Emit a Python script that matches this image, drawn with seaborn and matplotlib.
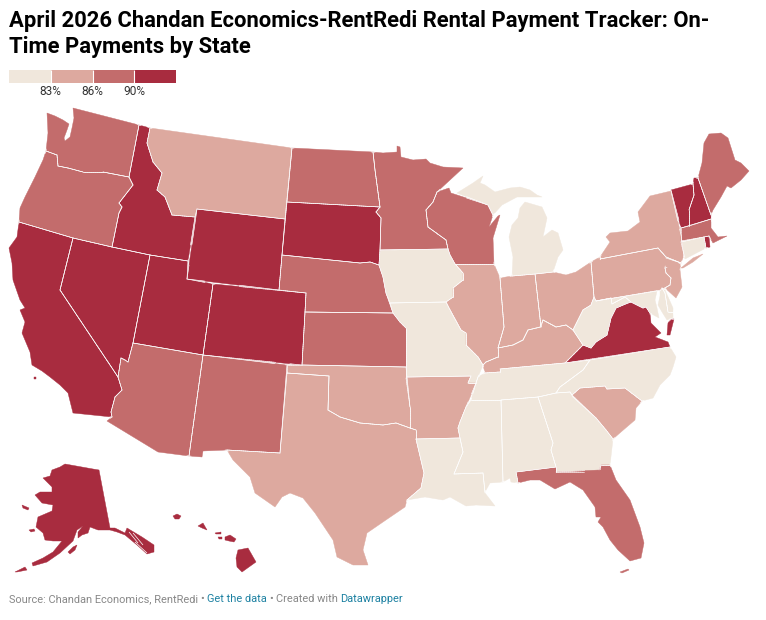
import matplotlib
matplotlib.use('Agg')
import matplotlib.pyplot as plt
from matplotlib.collections import LineCollection
from matplotlib.colors import ListedColormap
import numpy as np
import seaborn as sns

TITLE = 'April 2026 Chandan Economics-RentRedi Rental Payment Tracker: On-\nTime Payments by State'
BIN_COLORS = ['#f0e7dc', '#dda99f', '#c36c6c', '#a82c3f']
BIN_LABELS = ['83%', '86%', '90%']

# payment bin per state: 0 lowest .. 3 highest
BIN_LOW = ['IA', 'MO', 'MI', 'MI2', 'WV', 'MD', 'MD2', 'DE', 'TN', 'NC', 'MS', 'AL', 'GA', 'LA', 'CT']
BIN_MID_LOW = ['MT', 'TX', 'OK', 'AR', 'IL', 'IN', 'OH', 'KY', 'PA', 'NY', 'NY2', 'NJ', 'SC']
BIN_MID_HIGH = ['WA', 'OR', 'ND', 'MN', 'WI', 'NE', 'KS', 'AZ', 'NM', 'FL', 'FL2', 'ME', 'MA']
BIN_HIGH = ['ID', 'WY', 'SD', 'CA', 'CA2', 'NV', 'UT', 'CO', 'VA', 'VA2', 'VT', 'NH', 'RI', 'AK', 'AK2', 'AK3',
            'AK4', 'AK5', 'HI', 'HI2', 'HI3', 'HI4', 'HI5', 'HI6']

# state outlines, in its pixel grid
OUTLINES = {
    'WA': [(73,108),(139,125),(129,177),(103,172),(83,172),(68,168),(58,166),(57,155),(46,151),(48,133),(47,113),(55,116),(63,120),(69,124),(67,130),(64,138),(65,141),(70,137),(72,128),(74,118)],
    'ID': [(139,125),(150,128),(147,143),(153,162),(162,173),(157,190),(165,197),(172,215),(195,217),(188,261),(150,255),(112,247),(119,213),(122,207),(119,203),(133,185),(129,177)],
    'OR': [(46,151),(57,155),(58,166),(68,168),(83,172),(103,172),(129,177),(133,185),(119,203),(122,207),(119,213),(112,247),(73,238),(19,222),(20,208),(25,197),(35,177),(43,160)],
    'MT': [(150,128),(292,148),(285,219),(197,209),(195,217),(172,215),(165,197),(157,190),(162,173),(153,162),(147,143)],
    'WY': [(197,209),(285,219),(279,290),(187,279)],
    'ND': [(292,148),(373,152),(375,170),(380,207),(287,202)],
    'SD': [(287,202),(380,207),(376,212),(381,218),(380,250),(379,265),(370,262),(360,263),(282,255)],
    'NE': [(282,255),(360,263),(370,262),(379,265),(383,277),(386,293),(393,313),(305,312),(306,293),(279,290)],
    'KS': [(305,312),(393,313),(400,322),(406,328),(406,367),(302,365)],
    'CO': [(213,284),(306,293),(305,312),(302,365),(203,355)],
    'UT': [(150,255),(188,261),(187,279),(213,284),(203,355),(133,343)],
    'NV': [(73,238),(112,247),(150,255),(133,343),(128,362),(125,360),(121,358),(118,377),(60,290)],
    'CA': [(19,222),(73,238),(60,290),(118,377),(122,390),(115,397),(111,412),(112,417),(73,413),(68,393),(60,385),(50,377),(42,371),(32,365),(30,352),(22,333),(25,322),(20,310),(25,308),(20,300),(13,280),(12,263),(9,248),(17,237)],
    'CA2': [(34,377),(36,377),(36,379),(34,379)],
    'AZ': [(133,343),(203,355),(189,456),(158,452),(107,421),(112,417),(111,412),(115,397),(122,390),(118,377),(121,358),(125,360),(128,362)],
    'NM': [(203,355),(287,365),(280,453),(227,450),(203,451),(202,457),(189,456)],
    'TX': [(287,373),(329,376),(328,410),(340,417),(360,423),(383,425),(396,423),(410,428),(416,430),(416,439),(424,473),(421,488),(407,500),(405,507),(383,522),(367,533),(363,550),(368,565),(353,565),(337,557),(333,540),(315,513),(303,498),(290,493),(282,497),(275,507),(255,493),(250,477),(233,460),(227,450),(280,453)],
    'OK': [(287,365),(302,365),(406,367),(406,378),(410,407),(410,428),(396,423),(383,425),(360,423),(340,417),(328,410),(329,376),(287,373)],
    'MN': [(373,152),(383,153),(397,152),(397,146),(400,147),(401,157),(413,160),(426,159),(430,163),(443,167),(463,168),(437,192),(433,202),(426,210),(428,227),(446,240),(448,249),(380,250),(381,218),(376,212),(380,207),(375,170)],
    'IA': [(380,250),(448,249),(450,255),(455,264),(463,273),(463,280),(453,288),(453,297),(446,302),(390,303),(386,293),(383,277),(379,265)],
    'MO': [(390,303),(446,302),(449,308),(461,330),(466,333),(466,345),(478,357),(483,365),(478,377),(476,383),(468,383),(471,376),(407,377),(406,367),(406,328),(400,322),(393,313)],
    'AR': [(407,377),(471,376),(468,383),(476,383),(466,407),(460,422),(458,428),(460,438),(416,439),(416,430),(410,428),(410,407)],
    'LA': [(416,439),(460,438),(463,452),(454,474),(483,473),(485,493),(495,506),(476,505),(466,506),(450,497),(443,500),(425,497),(407,500),(421,488),(424,473)],
    'MS': [(471,400),(501,400),(503,482),(490,483),(485,492),(483,473),(454,474),(463,452),(460,438),(458,428),(460,422),(466,407)],
    'AL': [(501,400),(538,397),(553,443),(551,450),(556,467),(516,472),(518,483),(511,482),(510,478),(503,482)],
    'GA': [(538,397),(556,393),(570,392),(573,397),(596,418),(606,430),(613,439),(610,465),(601,465),(600,472),(556,472),(556,467),(551,450),(553,443)],
    'FL': [(516,472),(556,467),(556,472),(599,470),(601,465),(610,465),(616,480),(630,500),(640,527),(644,543),(641,558),(630,561),(618,550),(610,540),(603,527),(598,522),(601,517),(596,517),(595,507),(583,490),(570,482),(555,489),(540,480),(530,480),(518,483)],
    'FL2': [(620,572),(628,569),(629,570),(622,573)],
    'SC': [(572,395),(580,388),(605,386),(607,389),(625,388),(642,401),(636,408),(635,420),(621,432),(613,439),(606,430),(596,418)],
    'NC': [(590,360),(670,347),(676,357),(673,367),(670,375),(660,385),(653,398),(642,401),(625,388),(607,389),(605,386),(580,388),(572,395),(570,392),(556,393),(560,387),(583,370)],
    'TN': [(478,377),(485,373),(500,372),(500,369),(565,363),(590,360),(583,370),(560,387),(556,393),(538,397),(501,400),(471,400),(476,383)],
    'KY': [(483,365),(485,373),(500,372),(500,369),(565,363),(583,345),(573,330),(566,325),(556,327),(543,320),(540,327),(528,330),(523,340),(513,345),(498,348),(498,357),(486,362)],
    'IN': [(500,278),(512,276),(535,274),(541,327),(528,330),(523,340),(513,345),(498,348),(504,327)],
    'IL': [(455,264),(494,264),(500,278),(504,327),(498,348),(498,357),(486,362),(483,365),(478,357),(466,345),(466,333),(461,330),(449,308),(446,302),(453,297),(453,288),(463,280),(463,273)],
    'WI': [(437,192),(449,188),(451,193),(488,205),(493,215),(489,227),(498,216),(500,215),(493,238),(494,264),(455,264),(450,255),(448,249),(446,240),(428,227),(426,210),(433,202)],
    'MI': [(457,193),(473,183),(483,176),(480,183),(485,185),(495,192),(510,188),(520,187),(530,190),(537,195),(542,197),(517,197),(502,205),(493,215),(488,205)],
    'MI2': [(512,276),(535,274),(553,272),(558,257),(563,250),(558,233),(552,230),(543,237),(547,218),(542,207),(525,202),(520,208),(518,218),(512,225),(509,237),(513,257)],
    'OH': [(535,274),(553,272),(566,275),(576,272),(591,262),(594,297),(591,305),(583,310),(578,320),(573,330),(566,325),(556,327),(543,320),(541,327)],
    'PA': [(600,257),(600,259),(658,248),(666,257),(681,263),(665,268),(666,273),(671,278),(670,285),(661,290),(596,301),(594,297),(591,262)],
    'NY': [(600,259),(658,248),(666,257),(681,263),(684,255),(681,235),(671,191),(650,196),(638,212),(640,222),(628,231),(610,233),(606,237),(610,242),(600,257)],
    'NY2': [(681,268),(693,258),(703,254),(693,262),(683,268)],
    'NJ': [(666,258),(681,263),(680,270),(682,287),(676,298),(665,288),(670,285),(671,278),(666,273),(665,268)],
    'CT': [(681,242),(704,237),(706,248),(685,259),(684,255)],
    'RI': [(704,237),(709,236),(710,247),(706,248)],
    'MA': [(681,228),(711,219),(711,228),(718,237),(727,236),(721,239),(713,243),(709,236),(704,237),(681,241)],
    'VT': [(671,190),(693,184),(694,195),(689,210),(689,226),(681,228)],
    'NH': [(694,178),(698,178),(711,215),(711,219),(689,226),(689,210),(694,195),(693,184)],
    'ME': [(698,178),(702,163),(704,143),(709,134),(721,133),(728,138),(735,160),(741,163),(749,171),(741,180),(731,188),(727,186),(721,197),(713,210),(711,215)],
    'WV': [(594,297),(596,301),(611,298),(612,304),(625,297),(631,302),(628,303),(616,308),(611,318),(607,335),(596,342),(591,348),(583,345),(573,330),(578,320),(583,310),(591,305)],
    'MD': [(596,301),(657,291),(655,300),(657,308),(659,318),(650,313),(646,307),(643,308),(631,302),(625,297),(612,304),(611,298)],
    'MD2': [(660,291),(662,288),(665,293),(668,312),(673,312),(673,318),(667,320),(662,312),(658,305),(660,296)],
    'DE': [(662,288),(665,290),(673,308),(673,312),(668,312),(665,293)],
    'VA': [(565,363),(670,347),(668,342),(655,337),(661,333),(651,323),(650,313),(646,307),(643,308),(631,302),(628,303),(616,308),(611,318),(607,335),(596,342),(591,348),(583,345)],
    'VA2': [(671,319),(674,319),(670,335),(667,335),(668,323)],
    'AK': [(65,464),(93,469),(99,470),(110,528),(115,528),(125,533),(127,528),(142,537),(154,545),(154,552),(147,554),(137,545),(125,535),(117,532),(110,530),(98,530),(90,527),(88,533),(82,535),(78,538),(78,532),(83,526),(77,530),(73,541),(60,553),(47,562),(33,566),(32,563),(43,558),(53,552),(62,541),(53,541),(45,540),(43,533),(36,527),(38,517),(52,511),(53,505),(42,503),(35,495),(40,492),(52,492),(52,487),(43,478),(50,476),(52,470),(60,467)],
    'AK2': [(68,552),(73,547),(77,545),(75,550),(70,554)],
    'AK3': [(29,530),(34,529),(35,531),(31,532)],
    'AK4': [(22,505),(29,508),(28,510),(23,508)],
    'AK5': [(15,572),(25,567),(27,570),(17,572)],
    'HI': [(173,516),(177,514),(181,516),(179,519),(175,519)],
    'HI2': [(198,526),(203,523),(207,530),(202,528)],
    'HI3': [(215,533),(221,532),(221,534),(216,534)],
    'HI4': [(218,537),(222,537),(222,539),(219,539)],
    'HI5': [(225,537),(230,535),(236,539),(234,542),(229,541),(225,540)],
    'HI6': [(238,550),(248,548),(256,562),(242,572),(237,567),(236,558)],
}

# channels between the panhandle islands
PANHANDLE_CHANNELS = [[(129,532),(138,543)], [(133,533),(143,545)], [(135,542),(147,553)]]


def outline_edges(points):
    pts = np.array(points + points[:1], dtype=float)
    return pts[:-1], pts[1:]


def inner_borders(outlines, step=2.0, tol=1.3):
    # pieces of an outline that run along another state are borders, the rest is coast
    edges = {name: outline_edges(pts) for name, pts in outlines.items()}
    pieces = []
    for name, (starts, ends) in edges.items():
        other_a = np.vstack([e[0] for n, e in edges.items() if n != name])
        other_b = np.vstack([e[1] for n, e in edges.items() if n != name])
        d = other_b - other_a
        len2 = np.maximum((d ** 2).sum(axis=1), 1e-9)
        for a, b in zip(starts, ends):
            n = max(int(np.hypot(*(b - a)) / step), 1)
            ts = np.linspace(0, 1, n + 1)
            for t0, t1 in zip(ts[:-1], ts[1:]):
                p0, p1 = a + (b - a) * t0, a + (b - a) * t1
                mid = (p0 + p1) / 2
                u = np.clip(((mid - other_a) * d).sum(axis=1) / len2, 0, 1)
                near = other_a + d * u[:, None]
                if np.hypot(*(near - mid).T).min() < tol:
                    pieces.append([p0, p1])
    return pieces


sns.set_theme(style='white')
plt.rcParams['font.family'] = ['Roboto', 'DejaVu Sans']

fig = plt.figure(figsize=(7.66, 6.2), dpi=100)
ax = fig.add_axes([0, 0, 1, 1])
ax.set_xlim(0, 766)
ax.set_ylim(620, 0)
ax.axis('off')

palette = sns.color_palette(BIN_COLORS)
for level, states in enumerate([BIN_LOW, BIN_MID_LOW, BIN_MID_HIGH, BIN_HIGH]):
    for name in states:
        xs, ys = zip(*OUTLINES[name])
        ax.fill(xs, ys, facecolor=palette[level], edgecolor=palette[level], linewidth=0.3)

ax.add_collection(LineCollection(inner_borders(OUTLINES), colors='white', linewidths=0.45, capstyle='round'))
ax.add_collection(LineCollection(PANHANDLE_CHANNELS, colors='white', linewidths=0.5))

ax.text(9, 9.5, TITLE, fontsize=15.85, fontweight='bold', color='#000000', va='top', linespacing=1.25)

# legend swatches
leg = fig.add_axes([9 / 766, 1 - 83 / 620, 167 / 766, 13 / 620])
sns.heatmap(np.arange(4).reshape(1, 4), ax=leg, cmap=ListedColormap(BIN_COLORS), cbar=False,
            xticklabels=False, yticklabels=False)
leg.vlines([1, 2, 3], 0, 1, colors='white', linewidth=0.8)
leg.set_xticks([1, 2, 3])
leg.set_xticklabels(BIN_LABELS, fontsize=8.6, color='#333333')
leg.tick_params(axis='x', length=0, pad=1.5)

footer_y = 599
grey = '#888888'
blue = '#1d81a2'
ax.text(9, footer_y, 'Source: Chandan Economics, RentRedi', fontsize=7.95, color=grey, va='center')
ax.text(200.5, footer_y, '•', fontsize=7.95, color=grey, va='center')
ax.text(207, footer_y, 'Get the data', fontsize=7.95, color=blue, va='center')
ax.text(269.5, footer_y, '•', fontsize=7.95, color=grey, va='center')
ax.text(275.5, footer_y, 'Created with', fontsize=7.95, color=grey, va='center')
ax.text(340, footer_y, 'Datawrapper', fontsize=7.95, color=blue, va='center')

fig.savefig('out.png', dpi=100)
